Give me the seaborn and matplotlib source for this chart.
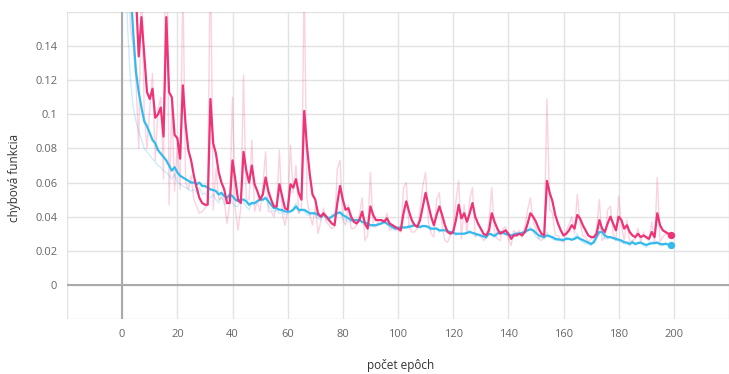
import numpy as np
import pandas as pd
import matplotlib
matplotlib.use("Agg")
import matplotlib.pyplot as plt
import seaborn as sns

# loss per epoch
epochs = list(range(200))

pink_smooth = [
    0.45, 0.38, 0.30, 0.24, 0.20, 0.17, 0.134, 0.157, 0.135, 0.113,
    0.109, 0.115, 0.098, 0.100, 0.104, 0.087, 0.157, 0.113, 0.110, 0.088,
    0.086, 0.074, 0.117, 0.094, 0.079, 0.073, 0.064, 0.057, 0.051, 0.048,
    0.047, 0.047, 0.109, 0.083, 0.077, 0.066, 0.060, 0.056, 0.048, 0.048,
    0.073, 0.062, 0.050, 0.048, 0.078, 0.067, 0.060, 0.070, 0.059, 0.055,
    0.050, 0.053, 0.063, 0.055, 0.050, 0.046, 0.046, 0.059, 0.052, 0.045,
    0.044, 0.059, 0.057, 0.062, 0.054, 0.050, 0.102, 0.081, 0.065, 0.053,
    0.050, 0.042, 0.040, 0.042, 0.040, 0.038, 0.036, 0.035, 0.048, 0.058,
    0.050, 0.044, 0.045, 0.040, 0.037, 0.036, 0.038, 0.043, 0.036, 0.033,
    0.046, 0.041, 0.038, 0.038, 0.038, 0.037, 0.039, 0.036, 0.035, 0.034,
    0.033, 0.032, 0.042, 0.049, 0.043, 0.038, 0.035, 0.034, 0.038, 0.046,
    0.054, 0.047, 0.040, 0.035, 0.041, 0.046, 0.041, 0.035, 0.031, 0.030,
    0.031, 0.038, 0.047, 0.039, 0.042, 0.037, 0.042, 0.048, 0.040, 0.036,
    0.033, 0.030, 0.029, 0.032, 0.042, 0.037, 0.033, 0.030, 0.031, 0.032,
    0.030, 0.027, 0.029, 0.029, 0.030, 0.029, 0.031, 0.036, 0.042, 0.040,
    0.037, 0.033, 0.030, 0.029, 0.061, 0.054, 0.049, 0.041, 0.036, 0.032,
    0.029, 0.030, 0.032, 0.035, 0.033, 0.041, 0.039, 0.035, 0.032, 0.029,
    0.028, 0.028, 0.030, 0.038, 0.033, 0.031, 0.036, 0.040, 0.036, 0.032,
    0.040, 0.038, 0.033, 0.035, 0.031, 0.029, 0.028, 0.030, 0.028, 0.029,
    0.028, 0.027, 0.031, 0.028, 0.042, 0.035, 0.032, 0.031, 0.030, 0.029,
]

pink_raw = [
    0.45, 0.33, 0.20, 0.15, 0.14, 0.12, 0.080, 0.190, 0.100, 0.080,
    0.103, 0.124, 0.073, 0.103, 0.110, 0.062, 0.262, 0.047, 0.106, 0.055,
    0.083, 0.056, 0.180, 0.060, 0.056, 0.064, 0.050, 0.046, 0.042, 0.043,
    0.045, 0.047, 0.200, 0.044, 0.068, 0.050, 0.051, 0.050, 0.036, 0.048,
    0.110, 0.045, 0.032, 0.045, 0.123, 0.050, 0.050, 0.085, 0.043, 0.049,
    0.043, 0.058, 0.078, 0.043, 0.043, 0.040, 0.046, 0.079, 0.042, 0.035,
    0.043, 0.082, 0.054, 0.070, 0.042, 0.044, 0.180, 0.050, 0.041, 0.035,
    0.046, 0.030, 0.037, 0.045, 0.037, 0.035, 0.033, 0.034, 0.068, 0.073,
    0.038, 0.035, 0.047, 0.033, 0.033, 0.035, 0.041, 0.051, 0.026, 0.029,
    0.066, 0.034, 0.034, 0.038, 0.038, 0.036, 0.042, 0.032, 0.034, 0.033,
    0.032, 0.031, 0.057, 0.060, 0.034, 0.031, 0.031, 0.033, 0.044, 0.058,
    0.066, 0.037, 0.030, 0.028, 0.050, 0.054, 0.034, 0.026, 0.025, 0.029,
    0.033, 0.049, 0.061, 0.027, 0.047, 0.030, 0.050, 0.057, 0.028, 0.030,
    0.029, 0.026, 0.028, 0.037, 0.057, 0.030, 0.027, 0.026, 0.033, 0.034,
    0.027, 0.023, 0.032, 0.029, 0.032, 0.028, 0.034, 0.044, 0.051, 0.037,
    0.033, 0.027, 0.026, 0.028, 0.109, 0.044, 0.042, 0.029, 0.029, 0.026,
    0.025, 0.032, 0.035, 0.040, 0.030, 0.053, 0.036, 0.029, 0.028, 0.025,
    0.027, 0.028, 0.033, 0.050, 0.026, 0.028, 0.044, 0.046, 0.030, 0.026,
    0.052, 0.035, 0.026, 0.038, 0.025, 0.026, 0.027, 0.033, 0.025, 0.031,
    0.027, 0.026, 0.037, 0.024, 0.063, 0.025, 0.028, 0.030, 0.029, 0.028,
]

cyan_smooth = [
    0.40, 0.28, 0.21, 0.175, 0.148, 0.125, 0.113, 0.104, 0.096, 0.093,
    0.089, 0.085, 0.083, 0.079, 0.077, 0.075, 0.073, 0.070, 0.067, 0.069,
    0.066, 0.064, 0.063, 0.062, 0.061, 0.060, 0.060, 0.059, 0.060, 0.058,
    0.058, 0.057, 0.056, 0.0556, 0.055, 0.053, 0.054, 0.052, 0.051, 0.053,
    0.052, 0.050, 0.049, 0.050, 0.050, 0.049, 0.047, 0.048, 0.048, 0.049,
    0.050, 0.050, 0.051, 0.049, 0.047, 0.045, 0.045, 0.044, 0.044, 0.043,
    0.043, 0.043, 0.044, 0.046, 0.044, 0.044, 0.044, 0.043, 0.042, 0.042,
    0.042, 0.041, 0.040, 0.041, 0.040, 0.039, 0.040, 0.041, 0.042, 0.0425,
    0.041, 0.040, 0.039, 0.038, 0.038, 0.038, 0.038, 0.037, 0.0365, 0.036,
    0.035, 0.035, 0.035, 0.0355, 0.036, 0.037, 0.036, 0.035, 0.034, 0.033,
    0.0335, 0.0337, 0.0337, 0.0337, 0.034, 0.0345, 0.035, 0.0345, 0.034, 0.0345,
    0.0345, 0.034, 0.033, 0.033, 0.033, 0.032, 0.032, 0.032, 0.0315, 0.031,
    0.0305, 0.030, 0.030, 0.030, 0.030, 0.0305, 0.031, 0.0305, 0.030, 0.0295,
    0.029, 0.0285, 0.028, 0.030, 0.0295, 0.0287, 0.030, 0.031, 0.0305, 0.030,
    0.0295, 0.029, 0.0295, 0.030, 0.030, 0.0305, 0.031, 0.032, 0.0326, 0.032,
    0.0305, 0.029, 0.0285, 0.028, 0.029, 0.0285, 0.028, 0.027, 0.0267, 0.0265,
    0.0263, 0.027, 0.027, 0.0265, 0.027, 0.028, 0.027, 0.0263, 0.0255, 0.0248,
    0.024, 0.025, 0.028, 0.031, 0.031, 0.029, 0.028, 0.028, 0.0275, 0.027,
    0.0265, 0.026, 0.025, 0.0248, 0.024, 0.025, 0.024, 0.0245, 0.0248, 0.024,
    0.0234, 0.024, 0.0244, 0.0245, 0.0248, 0.024, 0.0238, 0.024, 0.0237, 0.0234,
]

cyan_raw = [
    0.30, 0.20, 0.15, 0.12, 0.104, 0.096, 0.090, 0.085, 0.080, 0.078,
    0.076, 0.074, 0.072, 0.070, 0.069, 0.067, 0.066, 0.064, 0.062, 0.065,
    0.060, 0.059, 0.058, 0.057, 0.056, 0.055, 0.056, 0.054, 0.057, 0.053,
    0.054, 0.052, 0.051, 0.053, 0.050, 0.048, 0.053, 0.047, 0.048, 0.054,
    0.048, 0.046, 0.046, 0.050, 0.048, 0.046, 0.044, 0.048, 0.047, 0.050,
    0.051, 0.049, 0.052, 0.046, 0.044, 0.043, 0.044, 0.042, 0.043, 0.041,
    0.042, 0.043, 0.045, 0.048, 0.042, 0.044, 0.043, 0.041, 0.041, 0.042,
    0.041, 0.039, 0.038, 0.042, 0.038, 0.037, 0.041, 0.042, 0.043, 0.042,
    0.039, 0.038, 0.037, 0.037, 0.038, 0.037, 0.038, 0.036, 0.035, 0.035,
    0.034, 0.035, 0.035, 0.036, 0.037, 0.038, 0.035, 0.034, 0.033, 0.032,
    0.034, 0.034, 0.033, 0.034, 0.035, 0.035, 0.036, 0.034, 0.033, 0.035,
    0.034, 0.033, 0.032, 0.033, 0.033, 0.031, 0.032, 0.032, 0.031, 0.030,
    0.030, 0.029, 0.030, 0.030, 0.030, 0.031, 0.032, 0.030, 0.029, 0.029,
    0.028, 0.028, 0.027, 0.033, 0.029, 0.028, 0.032, 0.032, 0.030, 0.029,
    0.029, 0.028, 0.030, 0.031, 0.030, 0.031, 0.032, 0.034, 0.034, 0.031,
    0.028, 0.027, 0.028, 0.027, 0.031, 0.028, 0.027, 0.026, 0.026, 0.026,
    0.026, 0.028, 0.027, 0.026, 0.028, 0.030, 0.026, 0.025, 0.024, 0.024,
    0.023, 0.027, 0.031, 0.034, 0.031, 0.027, 0.027, 0.028, 0.027, 0.026,
    0.026, 0.025, 0.024, 0.024, 0.023, 0.026, 0.023, 0.025, 0.025, 0.023,
    0.022, 0.025, 0.025, 0.025, 0.025, 0.023, 0.023, 0.025, 0.023, 0.023,
]

x_ticks = [-20, 0, 20, 40, 60, 80, 100, 120, 140, 160, 180, 200, 220]
y_ticks = [-0.02, 0, 0.02, 0.04, 0.06, 0.08, 0.1, 0.12, 0.14, 0.16]

pink = "#ee3377"
cyan = "#33bbee"

df = pd.DataFrame({
    "epoch": epochs,
    "pink_raw": pink_raw,
    "pink_smooth": pink_smooth,
    "cyan_raw": cyan_raw,
    "cyan_smooth": cyan_smooth,
})

sns.set_style("white")
plt.rcParams["font.family"] = ["Open Sans", "DejaVu Sans"]

fig = plt.figure(figsize=(7.29, 3.74), dpi=100)
ax = fig.add_axes([67 / 729, 1 - 319 / 374, 662 / 729, 307 / 374])

# raw curves (faint) then smoothed curves
sns.lineplot(data=df, x="epoch", y="cyan_raw", color=cyan, alpha=0.25, lw=1.0, ax=ax)
sns.lineplot(data=df, x="epoch", y="pink_raw", color=pink, alpha=0.22, lw=1.0, ax=ax)
sns.lineplot(data=df, x="epoch", y="cyan_smooth", color=cyan, lw=1.6, ax=ax)
sns.lineplot(data=df, x="epoch", y="pink_smooth", color=pink, lw=1.6, ax=ax)

last = df.iloc[[-1]]
sns.scatterplot(data=last, x="epoch", y="pink_smooth", color=pink, s=28,
                linewidth=0, zorder=5, ax=ax, clip_on=False)
sns.scatterplot(data=last, x="epoch", y="cyan_smooth", color=cyan, s=28,
                linewidth=0, zorder=5, ax=ax, clip_on=False)

ax.set_xlim(-20, 217.6)
ax.set_ylim(-0.02, 0.16)
ax.set_xticks(x_ticks)
ax.set_xticklabels(["" if t < 0 or t > 200 else str(t) for t in x_ticks])
ax.set_yticks(y_ticks)
ax.set_yticklabels(["" if t < 0 or t > 0.15 else f"{round(t, 2):g}" for t in y_ticks])
ax.tick_params(axis="both", length=0, pad=7, labelsize=8, labelcolor="#666666")

ax.grid(True, color="#e2e2e2", lw=1.0)
ax.set_axisbelow(True)
ax.axhline(0, color="#aaaaaa", lw=1.5, zorder=1)
ax.axvline(0, color="#aaaaaa", lw=1.5, zorder=1)
for s in ax.spines.values():
    s.set_visible(False)

ax.set_xlabel("")
ax.set_ylabel("")
fig.text(401 / 729, 1 - 365 / 374, "počet epôch", ha="center", va="center",
         fontsize=8.5, color="#333333")
fig.text(15 / 729, 1 - 178 / 374, "chybová funkcia", ha="center", va="center",
         rotation=90, fontsize=8.5, color="#333333")

fig.savefig("out.png", dpi=100)
